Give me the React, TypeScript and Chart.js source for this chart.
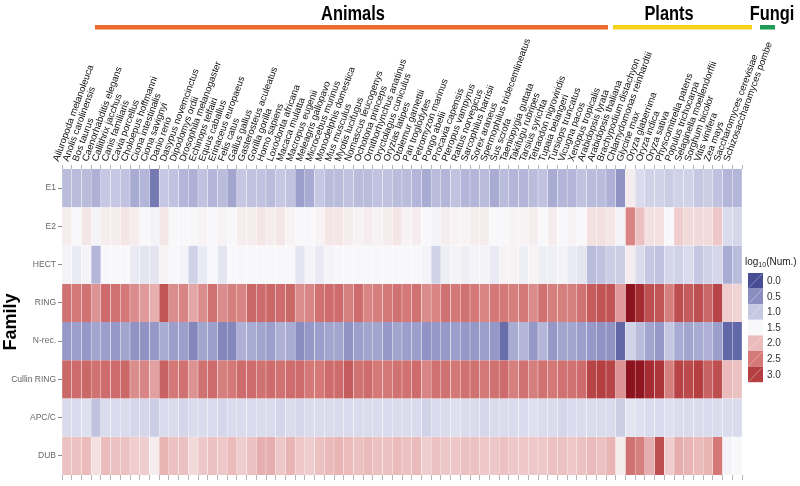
import React, { useEffect, useRef } from "react";
import { Chart, registerables } from "chart.js";
Chart.register(...registerables);

const species = [
  "Ailuropoda melanoleuca", "Anolis carolinensis", "Bos taurus", "Caenorhabditis elegans", "Callithrix jacchus",
  "Canis familiaris", "Cavia porcellus", "Choloepus hoffmanni", "Ciona intestinalis", "Ciona savignyi",
  "Danio rerio", "Dasypus novemcinctus", "Dipodomys ordii", "Drosophila melanogaster", "Echinops telfairi",
  "Equus caballus", "Erinaceus europaeus", "Felis catus", "Gallus gallus", "Gasterosteus aculeatus",
  "Gorilla gorilla", "Homo sapiens", "Loxodonta africana", "Macaca mulatta", "Macropus eugenii",
  "Meleagris gallopavo", "Microcebus murinus", "Monodelphis domestica", "Mus musculus", "Myotis lucifugus",
  "Nomascus leucogenys", "Ochotona princeps", "Ornithorhynchus anatinus", "Oryctolagus cuniculus", "Oryzias latipes",
  "Otolemur garnettii", "Pan troglodytes", "Petromyzon marinus", "Pongo abelii", "Procavia capensis",
  "Pteropus vampyrus", "Rattus norvegicus", "Sarcophilus harrisii", "Sorex araneus", "Spermophilus tridecemlineatus",
  "Sus scrofa", "Taeniopygia guttata", "Takifugu rubripes", "Tarsius syrichta", "Tetraodon nigroviridis",
  "Tupaia belangeri", "Tursiops truncatus", "Vicugna pacos", "Xenopus tropicalis", "Arabidopsis lyrata",
  "Arabidopsis thaliana", "Brachypodium distachyon", "Chlamydomonas reinhardtii", "Glycine max", "Oryza glaberrima",
  "Oryza indica", "Oryza sativa", "Physcomitrella patens", "Populus trichocarpa", "Selaginella moellendorffii",
  "Sorghum bicolor", "Vitis vinifera", "Zea mays", "Saccharomyces cerevisiae", "Schizosaccharomyces pombe",
];

const families = ["E1", "E2", "HECT", "RING", "N-rec.", "Cullin RING", "APC/C", "DUB"];

const e1 = [
  0.9, 0.9, 0.9, 0.8, 1.0, 1.0, 0.95, 0.75, 0.85, 0.35,
  1.0, 0.95, 0.85, 0.8, 0.95, 0.85, 0.9, 0.7, 1.0, 0.95,
  0.95, 0.9, 1.0, 0.95, 0.65, 0.75, 1.0, 0.9, 0.9, 0.95,
  0.9, 0.9, 0.95, 0.95, 0.9, 0.9, 0.85, 0.75, 0.9, 0.85,
  0.95, 0.85, 0.85, 0.9, 0.75, 0.9, 0.85, 0.85, 0.9, 0.95,
  0.75, 0.85, 0.85, 0.95, 0.9, 0.9, 0.8, 0.55, 1.6, 1.2,
  1.1, 1.1, 1.05, 1.1, 1.1, 1.0, 1.05, 0.95, 0.85, 0.85,
];
const e2 = [
  1.6, 1.5, 1.65, 1.45, 1.6, 1.6, 1.65, 1.6, 1.5, 1.45,
  1.65, 1.5, 1.5, 1.5, 1.55, 1.5, 1.55, 1.5, 1.6, 1.6,
  1.65, 1.6, 1.65, 1.55, 1.5, 1.5, 1.55, 1.65, 1.65, 1.6,
  1.55, 1.6, 1.55, 1.6, 1.65, 1.55, 1.6, 1.5, 1.45, 1.6,
  1.55, 1.55, 1.6, 1.6, 1.5, 1.5, 1.55, 1.55, 1.6, 1.5,
  1.6, 1.5, 1.55, 1.5, 1.7, 1.7, 1.65, 1.45, 2.4, 1.95,
  1.7, 1.7, 1.5, 1.85, 1.75, 1.75, 1.75, 1.9, 1.2, 1.15,
];
const hect = [
  1.45, 1.35, 1.45, 0.85, 1.5, 1.5, 1.5, 1.35, 1.3, 1.3,
  1.55, 1.5, 1.45, 1.1, 1.35, 1.5, 1.3, 1.5, 1.5, 1.5,
  1.5, 1.5, 1.5, 1.5, 1.3, 1.45, 1.35, 1.45, 1.5, 1.5,
  1.5, 1.5, 1.5, 1.5, 1.5, 1.5, 1.5, 1.45, 1.1, 1.4,
  1.45, 1.4, 1.45, 1.45, 1.35, 1.55, 1.55, 1.4, 1.55, 1.4,
  1.4, 1.45, 1.35, 1.3, 0.9, 0.95, 1.05, 1.05, 1.6, 1.2,
  1.0, 0.95, 1.15, 1.1, 1.2, 1.0, 1.1, 1.15, 0.75, 0.9,
];
const ring = [
  2.55, 2.5, 2.55, 2.3, 2.6, 2.55, 2.5, 2.35, 2.25, 2.1,
  2.8, 2.35, 2.4, 2.15, 2.35, 2.55, 2.35, 2.45, 2.4, 2.65,
  2.6, 2.65, 2.6, 2.65, 2.35, 2.4, 2.55, 2.6, 2.6, 2.45,
  2.6, 2.4, 2.45, 2.5, 2.55, 2.5, 2.55, 2.35, 2.4, 2.55,
  2.5, 2.55, 2.5, 2.4, 2.5, 2.5, 2.45, 2.5, 2.35, 2.55,
  2.45, 2.45, 2.45, 2.55, 2.75, 2.8, 2.8, 2.25, 3.5, 3.2,
  2.85, 2.8, 2.45, 2.85, 2.75, 2.85, 2.65, 2.95, 1.85, 1.8,
];
const nrec = [
  0.6, 0.65, 0.6, 0.7, 0.65, 0.6, 0.7, 0.55, 0.55, 0.6,
  0.75, 0.65, 0.65, 0.45, 0.7, 0.65, 0.45, 0.45, 0.8, 0.75,
  0.7, 0.65, 0.8, 0.75, 0.5, 0.6, 0.65, 0.7, 0.7, 0.55,
  0.65, 0.7, 0.7, 0.6, 0.7, 0.65, 0.65, 0.55, 0.6, 0.6,
  0.65, 0.6, 0.6, 0.65, 0.6, 0.25, 0.75, 0.85, 0.6, 0.85,
  0.6, 0.7, 0.7, 0.65, 0.6, 0.55, 0.55, 0.2, 1.1, 0.9,
  0.7, 0.6, 1.0, 0.75, 0.7, 0.75, 0.8, 0.65, 0.2, 0.2,
];
const cullin = [
  2.65, 2.6, 2.65, 2.55, 2.6, 2.6, 2.65, 2.35, 2.4, 2.2,
  2.7, 2.5, 2.55, 2.3, 2.55, 2.6, 2.45, 2.5, 2.6, 2.6,
  2.55, 2.6, 2.55, 2.6, 2.6, 2.5, 2.5, 2.6, 2.6, 2.75,
  2.55, 2.6, 2.5, 2.5, 2.55, 2.55, 2.6, 2.4, 2.55, 2.55,
  2.5, 2.55, 2.55, 2.5, 2.55, 2.6, 2.45, 2.55, 2.45, 2.55,
  2.5, 2.55, 2.55, 2.6, 2.95, 3.0, 2.95, 2.3, 3.5, 3.45,
  3.2, 3.1, 2.45, 2.95, 2.9, 3.0, 2.7, 2.85, 2.0, 1.95,
];
const apcc = [
  1.2, 1.2, 1.25, 0.95, 1.2, 1.2, 1.2, 1.15, 1.15, 1.05,
  1.2, 1.2, 1.15, 1.2, 1.2, 1.2, 1.15, 1.2, 1.2, 1.2,
  1.2, 1.2, 1.15, 1.2, 1.15, 1.2, 1.2, 1.2, 1.2, 1.2,
  1.2, 1.2, 1.2, 1.2, 1.2, 1.2, 1.2, 1.1, 1.2, 1.2,
  1.25, 1.2, 1.2, 1.15, 1.2, 1.2, 1.2, 1.2, 1.25, 1.2,
  1.2, 1.15, 1.2, 1.2, 1.2, 1.2, 1.2, 1.05, 1.3, 1.25,
  1.2, 1.2, 1.25, 1.2, 1.2, 1.2, 1.2, 1.2, 1.2, 1.2,
];
const dub = [
  1.95, 1.95, 2.0, 1.7, 2.0, 1.95, 1.95, 1.85, 1.85, 1.6,
  2.05, 1.95, 1.95, 1.75, 1.9, 1.95, 1.9, 2.0, 1.85, 1.95,
  2.1, 2.1, 1.9, 2.05, 1.9, 1.85, 1.95, 2.0, 2.05, 2.0,
  1.95, 2.0, 1.95, 1.95, 2.0, 1.95, 2.0, 1.85, 1.95, 1.9,
  1.9, 1.95, 1.95, 1.9, 1.9, 1.95, 1.9, 1.9, 1.9, 1.9,
  1.95, 1.95, 1.9, 1.95, 2.0, 1.95, 2.05, 1.6, 2.55, 2.45,
  2.1, 2.85, 1.85, 2.1, 2.05, 2.0, 2.05, 2.5, 1.45, 1.5,
];

const rows = [e1, e2, hect, ring, nrec, cullin, apcc, dub];

const legendValues = [0.0, 0.5, 1.0, 1.5, 2.0, 2.5, 3.0];
const groupNames = ["Animals", "Plants", "Fungi"];
const groupColors = ["#ec6a30", "#f6d21e", "#1e9b57"];

const stops: [number, number[]][] = [
  [0.0, [72, 78, 150]],
  [0.5, [138, 141, 192]],
  [1.0, [198, 200, 227]],
  [1.5, [248, 248, 250]],
  [2.0, [235, 187, 187]],
  [2.5, [212, 120, 120]],
  [3.0, [180, 62, 64]],
  [3.5, [140, 18, 30]],
];

function colorFor(v: number): string {
  if (v <= stops[0][0]) return `rgb(${stops[0][1].join(",")})`;
  for (let i = 1; i < stops.length; i++) {
    if (v <= stops[i][0]) {
      const [a, ca] = stops[i - 1];
      const [b, cb] = stops[i];
      const t = (v - a) / (b - a);
      const c = ca.map((x, k) => Math.round(x + (cb[k] - x) * t));
      return `rgb(${c.join(",")})`;
    }
  }
  return `rgb(${stops[stops.length - 1][1].join(",")})`;
}

const FONT = "'Liberation Sans', Arial, sans-serif";

const decorPlugin = {
  id: "decor",
  afterDraw(chart: any) {
    const ctx = chart.ctx as CanvasRenderingContext2D;
    ctx.save();
    // group headers
    const bars = [
      [95, 608],
      [613, 752],
      [760, 775],
    ];
    const centers = [353, 669, 772];
    ctx.font = `bold 20px ${FONT}`;
    ctx.textAlign = "center";
    ctx.textBaseline = "alphabetic";
    groupNames.forEach((g, i) => {
      ctx.fillStyle = groupColors[i];
      ctx.fillRect(bars[i][0], 25, bars[i][1] - bars[i][0], 4.5);
      ctx.save();
      ctx.translate(centers[i], 20);
      ctx.scale(0.82, 1);
      ctx.fillStyle = "#000";
      ctx.fillText(g, 0, 0);
      ctx.restore();
    });

    // y title
    ctx.save();
    ctx.translate(11, 322);
    ctx.rotate(-Math.PI / 2);
    ctx.font = `bold 18px ${FONT}`;
    ctx.textAlign = "center";
    ctx.textBaseline = "middle";
    ctx.fillStyle = "#000";
    ctx.fillText("Family", 0, 0);
    ctx.restore();

    // legend
    ctx.fillStyle = "#222";
    ctx.textAlign = "left";
    ctx.textBaseline = "middle";
    ctx.font = `10px ${FONT}`;
    let x = 745;
    const ty = 262;
    ctx.fillText("log", x, ty);
    x += ctx.measureText("log").width;
    ctx.font = `7px ${FONT}`;
    ctx.fillText("10", x, ty + 3.5);
    x += ctx.measureText("10").width;
    ctx.font = `10px ${FONT}`;
    ctx.fillText("(Num.)", x, ty);

    const sx = 748, sw = 15, sh = 15.6, sy0 = 273;
    legendValues.forEach((v, i) => {
      const y = sy0 + i * sh;
      ctx.fillStyle = colorFor(v);
      ctx.fillRect(sx, y, sw, sh);
      ctx.strokeStyle = "rgba(255,255,255,0.35)";
      ctx.lineWidth = 1;
      ctx.beginPath();
      ctx.moveTo(sx + 1, y + sh - 1);
      ctx.lineTo(sx + sw - 1, y + 1);
      ctx.stroke();
      ctx.fillStyle = "#333";
      ctx.font = `10px ${FONT}`;
      ctx.fillText(v.toFixed(1), sx + sw + 4, y + sh / 2 + 0.5);
    });
    ctx.restore();
  },
};

export default function App() {
  const ref = useRef<HTMLCanvasElement>(null);
  useEffect(() => {
    document.body.style.margin = "0";
    const canvas = ref.current!;
    const datasets = rows.map((vals, r) => ({
      label: families[r],
      data: species.map(() => [r, r + 1]),
      backgroundColor: vals.map((v) => colorFor(v)),
      borderColor: "rgba(255,255,255,0.45)",
      borderWidth: { left: 0.5, right: 0.5, top: 0, bottom: 0 },
      borderSkipped: false,
      grouped: false,
      categoryPercentage: 1,
      barPercentage: 1,
      xAxisID: "x",
      yAxisID: "y",
    }));
    const chart = new Chart(canvas, {
      type: "bar",
      data: { labels: species, datasets: datasets as any },
      plugins: [decorPlugin],
      options: {
        animation: false,
        responsive: false,
        devicePixelRatio: 1,
        layout: { padding: { top: 0, right: 58, bottom: 0, left: 0 } },
        plugins: { legend: { display: false }, tooltip: { enabled: false } },
        scales: {
          x: {
            type: "category",
            position: "top",
            offset: true,
            grid: { drawOnChartArea: false, drawTicks: true, tickLength: 4, color: "#b5b5b5" },
            border: { display: false },
            ticks: {
              autoSkip: false,
              minRotation: 70,
              maxRotation: 70,
              padding: 2,
              color: "#111",
              font: { family: FONT, size: 9.5 },
            },
            afterFit: (s: any) => {
              s.height = 169;
            },
          },
          xb: {
            type: "category",
            position: "bottom",
            offset: true,
            grid: { drawOnChartArea: false, drawTicks: true, tickLength: 5, color: "#b5b5b5" },
            border: { display: false },
            ticks: { display: false, autoSkip: false },
            afterFit: (s: any) => {
              s.height = 11;
            },
          },
          y: {
            type: "linear",
            min: 0,
            max: 8,
            reverse: true,
            grid: { drawOnChartArea: false, drawTicks: true, tickLength: 4, color: "#888" },
            border: { display: false },
            afterBuildTicks: (s: any) => {
              s.ticks = families.map((_, i) => ({ value: i + 0.5 }));
            },
            ticks: {
              padding: 2,
              color: "#666",
              font: { family: FONT, size: 8.5 },
              callback: (v: any) => families[Math.round(Number(v) - 0.5)] ?? "",
            },
            afterFit: (s: any) => {
              s.width = 62;
            },
          },
        },
      } as any,
    });
    return () => chart.destroy();
  }, []);
  return (
    <div style={{ width: 800, height: 486, position: "relative", background: "#fff" }}>
      <canvas ref={ref} width={800} height={486} style={{ display: "block", width: 800, height: 486 }} />
    </div>
  );
}
